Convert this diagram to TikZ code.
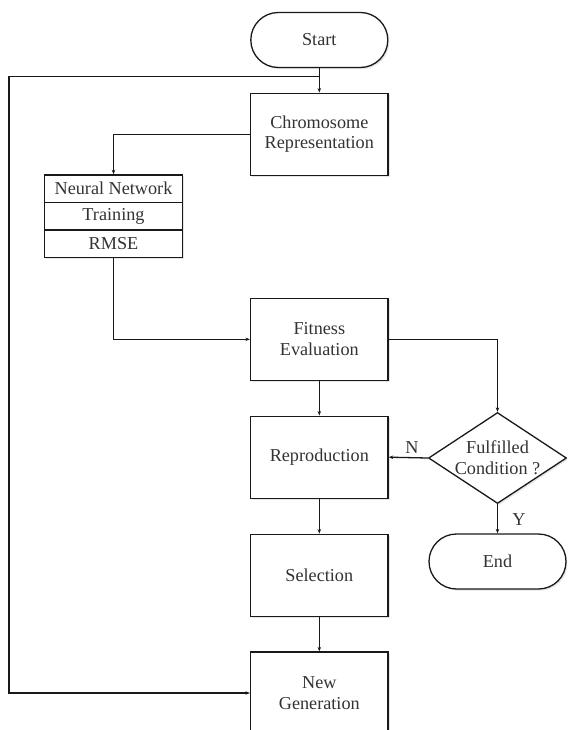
\documentclass[tikz,border=0pt]{standalone}
\usepackage{fontspec}
\setmainfont{Liberation Serif}
\usetikzlibrary{shapes.geometric,shapes.misc,arrows.meta,shadows}
\begin{document}
\begin{tikzpicture}[x=1pt,y=-1pt,
  every node/.style={text=black!80},
  basebox/.style={draw=black!90, line width=1.3pt, fill=white, inner sep=0pt, align=center,
     font=\fontsize{18.2}{20.7}\selectfont,
     drop shadow={shadow xshift=1.6pt, shadow yshift=-1.6pt, fill=black!10, opacity=1}},
  procbox/.style={basebox, rectangle, minimum width=137.5pt, minimum height=82pt},
  termbox/.style={basebox, rounded rectangle, minimum width=137pt, minimum height=55pt},
  rowbox/.style={basebox, rectangle, minimum width=137.5pt, minimum height=27.6pt},
  decbox/.style={basebox, diamond, minimum width=138pt, minimum height=91pt},
  arr/.style={draw=black!90, line width=1.3pt, -{Stealth[length=4.5pt,width=3.5pt]}},
  lbl/.style={font=\fontsize{18.2}{20.7}\selectfont, inner sep=0pt}
]
\useasboundingbox (0,0) rectangle (567,730);
\clip (0,0) rectangle (567,730);
\node[termbox] (start) at (319.3,40) {Start};
\node[procbox] (chrom) at (319.3,134.2) {Chromosome\\Representation};
\node[rowbox] (nn1) at (113.5,188.7) {Neural Network};
\node[rowbox] (nn2) at (113.5,216.3) {Training};
\node[rowbox] (nn3) at (113.5,243.9) {RMSE};
\node[procbox] (fit) at (319.3,339.3) {Fitness\\Evaluation};
\node[decbox] (dec) at (497.5,458) {};
\node[lbl, align=center] (dect) at (dec.center) {Fulfilled\\Condition ?};
\node[procbox] (rep) at (319.3,457.2) {Reproduction};
\node[termbox] (end) at (497.5,561.5) {End};
\node[procbox] (sel) at (319.3,575.2) {Selection};
\node[procbox] (newg) at (319.3,693) {New\\Generation};
\coordinate (j) at (319.3,76.7);
\coordinate (lc) at (9,76.7);
\draw[arr] (start.south) -- (chrom.north);
\draw[arr] (j) -- (lc) |- (newg.west);
\draw[arr] (chrom.west) -| (nn1.north);
\draw[arr] (nn3.south) |- (fit.west);
\draw[arr] (fit.east) -| (dec.north);
\draw[arr] (fit.south) -- (rep.north);
\draw[arr] (dec.west) -- (rep.east);
\draw[arr] (dec.south) -- (end.north);
\draw[arr] (rep.south) -- (sel.north);
\draw[arr] (sel.south) -- (newg.north);
\node[lbl] (nl) at (412,447.7) {N};
\node[lbl] (yl) at (519,519.3) {Y};
\end{tikzpicture}
\end{document}
